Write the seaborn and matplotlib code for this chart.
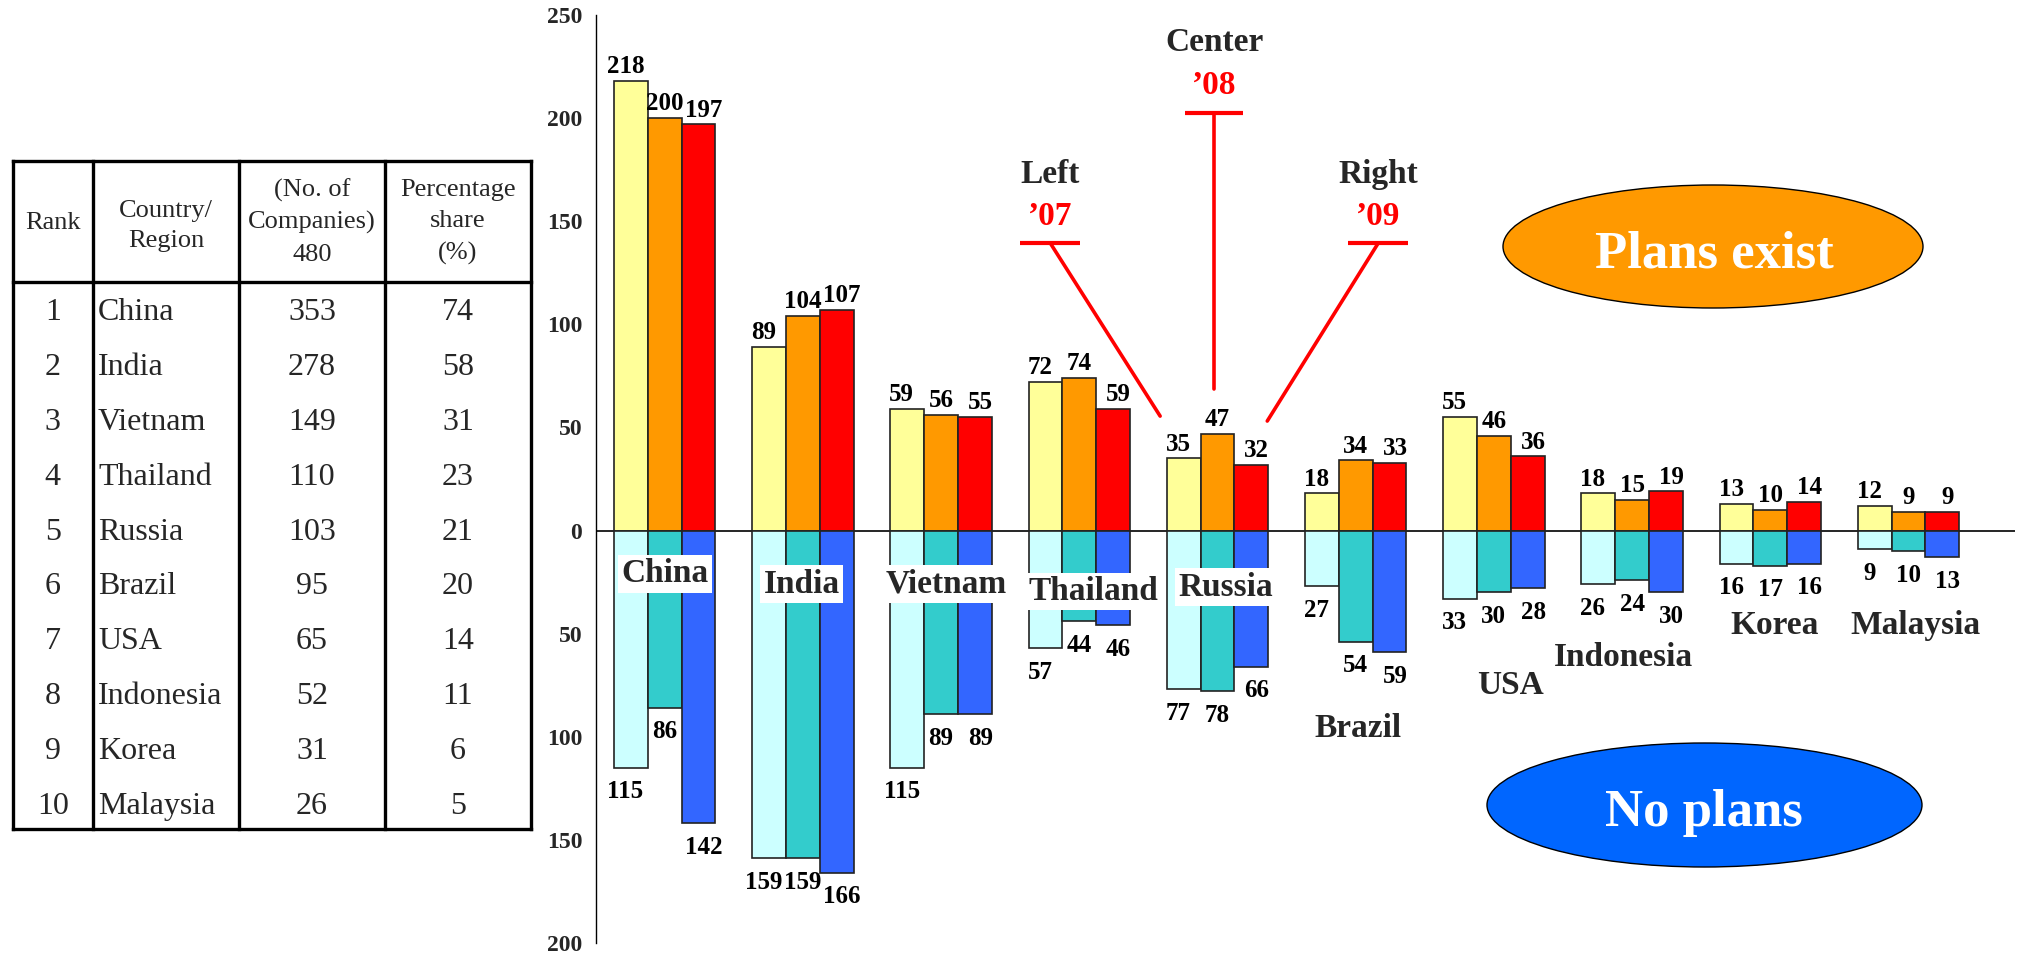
import numpy as np
import pandas as pd
import matplotlib
matplotlib.use("Agg")
import matplotlib.pyplot as plt
import seaborn as sns
from matplotlib.patches import Ellipse

# 数据
countries = ['China', 'India', 'Vietnam', 'Thailand', 'Russia',
             'Brazil', 'USA', 'Indonesia', 'Korea', 'Malaysia']
years = ["\u201907", "\u201908", "\u201909"]

plans_07 = [218, 89, 59, 72, 35, 18, 55, 18, 13, 12]
plans_08 = [200, 104, 56, 74, 47, 34, 46, 15, 10, 9]
plans_09 = [197, 107, 55, 59, 32, 33, 36, 19, 14, 9]
noplans_07 = [115, 159, 115, 57, 77, 27, 33, 26, 16, 9]
noplans_08 = [86, 159, 89, 44, 78, 54, 30, 24, 17, 10]
noplans_09 = [142, 166, 89, 46, 66, 59, 28, 30, 16, 13]

table_rank = list(range(1, 11))
table_companies = [353, 278, 149, 110, 103, 95, 65, 52, 31, 26]
table_share = [74, 58, 31, 23, 21, 20, 14, 11, 6, 5]
total_companies = 480

y_ticks = [250, 200, 150, 100, 50, 0, -50, -100, -150, -200]

pos_colors = ['#FFFF99', '#FF9900', '#FF0000']
neg_colors = ['#CCFFFF', '#33CCCC', '#3366FF']

# 国家名标签位置 (相对组中心的偏移, y 值)
name_dx = [0.0, -0.01, 0.035, 0.10, 0.06, 0.02, 0.12, -0.06, 0.03, 0.05]
name_y = [-21, -26, -26, -29.5, -27.5, -96, -75, -61.5, -46, -46]


def build_frame():
    rows = []
    for yr, pos, neg in zip(years, [plans_07, plans_08, plans_09],
                            [noplans_07, noplans_08, noplans_09]):
        for c, p, n in zip(countries, pos, neg):
            rows.append({'country': c, 'year': yr, 'plans': p, 'noplans': -n})
    return pd.DataFrame(rows)


def main():
    sns.set_style('white')
    plt.rcParams['font.family'] = ['Liberation Serif', 'DejaVu Serif']

    df = build_frame()
    fig = plt.figure(figsize=(20.22, 9.56), dpi=100, facecolor='white')
    ax = fig.add_axes([0.2948, 0.0136, 0.70174, 0.97071])

    sns.barplot(data=df, x='country', y='plans', hue='year', order=countries,
                hue_order=years, palette=pos_colors, saturation=1, width=0.733,
                edgecolor='#222222', linewidth=1.2, legend=False, ax=ax, zorder=2)
    sns.barplot(data=df, x='country', y='noplans', hue='year', order=countries,
                hue_order=years, palette=neg_colors, saturation=1, width=0.733,
                edgecolor='#222222', linewidth=1.2, legend=False, ax=ax, zorder=2)

    # 数值标注 (三个年份左右稍微错开, 避免重叠)
    all_vals = [plans_07, plans_08, plans_09, noplans_07, noplans_08, noplans_09]
    for k, (cont, vals) in enumerate(zip(ax.containers, all_vals)):
        pad = 2 if k < 3 else 9
        anns = ax.bar_label(cont, labels=[str(v) for v in vals], padding=pad,
                            fontsize=18, fontweight='bold', color='black')
        shift = (k % 3 - 1) * 4
        for a in anns:
            a.xyann = (shift, a.xyann[1])

    ax.axhline(0, color='black', lw=1.2, zorder=1)

    # 国家名
    for i, c in enumerate(countries):
        ax.text(i + name_dx[i], name_y[i], c, ha='center', va='center',
                fontsize=24, fontweight='bold', zorder=5,
                bbox=dict(facecolor='white', edgecolor='none', pad=2.5))

    ax.set_xlim(-0.496, 9.77)
    ax.set_ylim(-200, 250)
    ax.set_yticks(y_ticks)
    ax.set_yticklabels([str(abs(t)) for t in y_ticks], fontsize=17, fontweight='bold')
    ax.tick_params(axis='y', direction='in', length=7, width=1, pad=10)
    ax.set_xticks([])
    ax.set_xlabel('')
    ax.set_ylabel('')
    for s in ['top', 'right', 'bottom']:
        ax.spines[s].set_visible(False)
    ax.spines['left'].set_linewidth(1)
    ax.spines['left'].set_color('black')

    # Left / Center / Right 注释
    red = '#FF0000'
    notes = [('Left', years[0], 2.79, 172.5, 152.4, 139.4, 0.217, (3.585, 55.5)),
             ('Center', years[1], 3.976, 236.5, 215.7, 202.6, 0.21, (3.976, 68.6)),
             ('Right', years[2], 5.163, 172.5, 152.4, 139.4, 0.217, (4.36, 53.1))]
    for word, yr, x, ty, yy, by, hw, end in notes:
        ax.text(x, ty, word, ha='center', va='center', fontsize=24, fontweight='bold')
        ax.text(x, yy, yr, ha='center', va='center', fontsize=24, fontweight='bold', color=red)
        ax.plot([x - hw, x + hw], [by, by], color=red, lw=3, solid_capstyle='butt')
        ax.plot([x, end[0]], [by, end[1]], color=red, lw=2.6)

    # 覆盖层: 表格和椭圆 (像素坐标)
    ov = fig.add_axes([0, 0, 1, 1])
    ov.set_xlim(0, 2022)
    ov.set_ylim(956, 0)
    ov.axis('off')
    ov.patch.set_visible(False)

    ov.add_patch(Ellipse((1713, 246.5), 420, 123, facecolor='#FF9900',
                         edgecolor='black', lw=1))
    ov.text(1714, 267, 'Plans exist', ha='center', va='baseline', fontsize=38,
            fontweight='bold', color='white')
    ov.add_patch(Ellipse((1704.5, 805), 435, 124, facecolor='#0066FF',
                         edgecolor='black', lw=1))
    ov.text(1704, 826, 'No plans', ha='center', va='baseline', fontsize=38,
            fontweight='bold', color='white')

    cols = [12.7, 92.7, 239, 385, 531]
    top, head, bottom = 160.7, 281.7, 829
    for x in cols:
        ov.plot([x, x], [top, bottom], color='black', lw=2.4, solid_capstyle='projecting')
    for y in [top, head, bottom]:
        ov.plot([cols[0], cols[-1]], [y, y], color='black', lw=2.4, solid_capstyle='projecting')

    ov.text(52.7, 223, 'Rank', ha='center', va='center', fontsize=19)
    ov.text(166, 226, 'Country/\nRegion', ha='center', va='center', fontsize=19,
            linespacing=1.45)
    ov.text(312, 222, f'(No. of\nCompanies)\n{total_companies}', ha='center', va='center',
            fontsize=19, linespacing=1.55)
    ov.text(458, 222, 'Percentage\nshare\n(%)', ha='center', va='center',
            fontsize=19, linespacing=1.55)

    for i in range(10):
        y = 312.5 + 54.9 * i
        ov.text(52.7, y, str(table_rank[i]), ha='center', va='center', fontsize=23)
        ov.text(98, y, countries[i], ha='left', va='center', fontsize=23)
        ov.text(312, y, str(table_companies[i]), ha='center', va='center', fontsize=23)
        ov.text(458, y, str(table_share[i]), ha='center', va='center', fontsize=23)

    fig.savefig('out.png', dpi=100, facecolor='white')


if __name__ == '__main__':
    main()
